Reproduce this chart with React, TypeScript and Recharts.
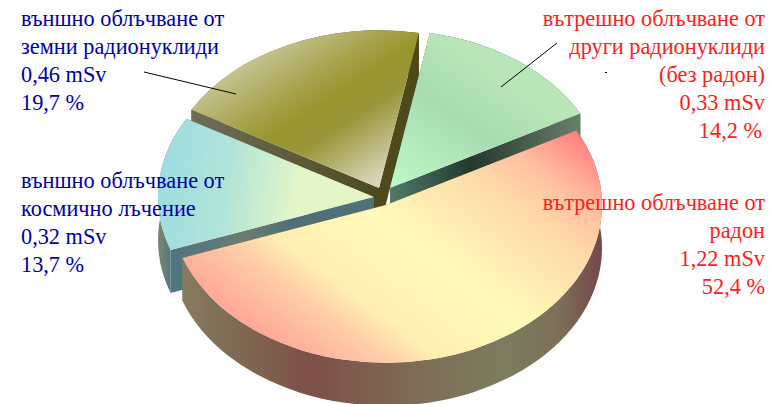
import { Pie, PieChart } from 'recharts'

const sliceNames = ['cosmic', 'terrestrial', 'other', 'radon']
const sliceShares = [13.7, 19.7, 14.2, 52.4]
const pieData = sliceNames.map((name, i) => ({ name, value: sliceShares[i] }))

const cosmicLabel = ['външно облъчване от', 'космично лъчение', '0,32 mSv', '13,7 %']
const terrestrialLabel = ['външно облъчване от', 'земни радионуклиди', '0,46 mSv', '19,7 %']
const otherLabel = ['вътрешно облъчване от', 'други радионуклиди', '(без радон)', '0,33 mSv']
const otherShare = ['14,2 %']
const radonLabel = ['вътрешно облъчване от', 'радон', '1,22 mSv', '52,4 %']

const CX = 385
const CY = 205
const RX = 216
const SQUASH = 0.73
const DEPTH = 43
const START_ANGLE = 199.6

// how far each slice is pulled out of the pie, same order as sliceNames
const explode = [
    [-11, -8],
    [-6, -17],
    [5, -17],
    [1, 0],
]
// slices whose walls have to be painted last, they hide the others
const frontSlices = [0, 3]

function edgePoint(x: number, y: number, angle: number) {
    const rad = (angle * Math.PI) / 180
    return [x + RX * Math.cos(rad), y - RX * SQUASH * Math.sin(rad)]
}

function wedgePath(x: number, y: number, from: number, to: number) {
    const [x1, y1] = edgePoint(x, y, from)
    const [x2, y2] = edgePoint(x, y, to)
    const large = from - to > 180 ? 1 : 0
    return `M${x},${y}L${x1},${y1}A${RX},${RX * SQUASH} 0 ${large} 1 ${x2},${y2}Z`
}

function wallPaths(x: number, y: number, from: number, to: number) {
    const [x1, y1] = edgePoint(x, y, from)
    const [x2, y2] = edgePoint(x, y, to)
    const large = from - to > 180 ? 1 : 0
    const ry = RX * SQUASH
    return [
        `M${x},${y}L${x1},${y1}L${x1},${y1 + DEPTH}L${x},${y + DEPTH}Z`,
        `M${x},${y}L${x2},${y2}L${x2},${y2 + DEPTH}L${x},${y + DEPTH}Z`,
        `M${x1},${y1}A${RX},${ry} 0 ${large} 1 ${x2},${y2}L${x2},${y2 + DEPTH}A${RX},${ry} 0 ${large} 0 ${x1},${y1 + DEPTH}Z`,
    ]
}

function SliceWall(props: any) {
    const { cx, cy, startAngle, endAngle, index } = props
    const [dx, dy] = explode[index]
    return (
        <g>
            {wallPaths(cx + dx, cy + dy, startAngle, endAngle).map((d) => (
                <path key={d} d={d} fill={`url(#wall-${index})`} />
            ))}
        </g>
    )
}

function BackWall(props: any) {
    return frontSlices.includes(props.index) ? <g /> : <SliceWall {...props} />
}

function FrontWall(props: any) {
    return frontSlices.includes(props.index) ? <SliceWall {...props} /> : <g />
}

function SliceTop(props: any) {
    const { cx, cy, startAngle, endAngle, index } = props
    const [dx, dy] = explode[index]
    return <path d={wedgePath(cx + dx, cy + dy, startAngle, endAngle)} fill={`url(#top-${index})`} />
}

function TextBlock({ lines, x, y, color, anchor }: { lines: string[]; x: number; y: number; color: string; anchor: 'start' | 'end' }) {
    return (
        <text x={x} y={y} fill={color} textAnchor={anchor} fontFamily="Liberation Serif" fontSize={22.3}>
            {lines.map((line, i) => (
                <tspan key={line} x={x} y={y + i * 28}>
                    {line}
                </tspan>
            ))}
        </text>
    )
}

export default function App() {
    return (
        <div style={{ position: 'absolute', left: 0, top: 0, width: 775, height: 404 }}>
            <PieChart width={775} height={404} margin={{ top: 0, right: 0, bottom: 0, left: 0 }}>
                <defs>
                    <linearGradient id="top-0" gradientUnits="userSpaceOnUse" x1="165" y1="170" x2="300" y2="190">
                        <stop offset="0" stopColor="#9fdde0" />
                        <stop offset="0.45" stopColor="#b0e4d8" />
                        <stop offset="1" stopColor="#e4f6c8" />
                    </linearGradient>
                    <linearGradient id="top-1" gradientUnits="userSpaceOnUse" x1="302" y1="26" x2="395" y2="169">
                        <stop offset="0" stopColor="#c5c390" />
                        <stop offset="0.3" stopColor="#a5a24a" />
                        <stop offset="0.45" stopColor="#98962e" />
                        <stop offset="0.62" stopColor="#98963a" />
                        <stop offset="1" stopColor="#dad5ba" />
                    </linearGradient>
                    <linearGradient id="top-2" gradientUnits="userSpaceOnUse" x1="480" y1="60" x2="395" y2="185">
                        <stop offset="0" stopColor="#b8e6b8" />
                        <stop offset="0.4" stopColor="#a8dcb0" />
                        <stop offset="1" stopColor="#bcf8c8" />
                    </linearGradient>
                    <linearGradient id="top-3" gradientUnits="userSpaceOnUse" x1="562" y1="121" x2="351" y2="402">
                        <stop offset="0" stopColor="#ff7f80" />
                        <stop offset="0.15" stopColor="#ffc0a0" />
                        <stop offset="0.26" stopColor="#ffd8a8" />
                        <stop offset="0.53" stopColor="#fffbb8" />
                        <stop offset="0.75" stopColor="#ffeeb0" />
                        <stop offset="0.85" stopColor="#ffcca8" />
                        <stop offset="1" stopColor="#ffa898" />
                    </linearGradient>
                    <linearGradient id="wall-0" gradientUnits="userSpaceOnUse" x1="157" y1="0" x2="372" y2="0">
                        <stop offset="0" stopColor="#7f8a70" />
                        <stop offset="0.07" stopColor="#4f7580" />
                        <stop offset="0.4" stopColor="#6b7c72" />
                        <stop offset="0.63" stopColor="#4f7078" />
                        <stop offset="1" stopColor="#4f7078" />
                    </linearGradient>
                    <linearGradient id="wall-1" gradientUnits="userSpaceOnUse" x1="192" y1="0" x2="420" y2="0">
                        <stop offset="0" stopColor="#6e6e58" />
                        <stop offset="0.45" stopColor="#5f5a3a" />
                        <stop offset="0.8" stopColor="#4e4a20" />
                        <stop offset="1" stopColor="#4d4a18" />
                    </linearGradient>
                    <linearGradient id="wall-2" gradientUnits="userSpaceOnUse" x1="390" y1="0" x2="578" y2="0">
                        <stop offset="0" stopColor="#4f7a6a" />
                        <stop offset="0.43" stopColor="#24392e" />
                        <stop offset="1" stopColor="#687e6c" />
                    </linearGradient>
                    <linearGradient id="wall-3" gradientUnits="userSpaceOnUse" x1="186" y1="0" x2="601" y2="0">
                        <stop offset="0" stopColor="#857a60" />
                        <stop offset="0.15" stopColor="#7e6650" />
                        <stop offset="0.3" stopColor="#7e5048" />
                        <stop offset="0.59" stopColor="#7e7058" />
                        <stop offset="0.76" stopColor="#7c7c5e" />
                        <stop offset="0.9" stopColor="#7c7058" />
                        <stop offset="1" stopColor="#75484a" />
                    </linearGradient>
                </defs>
                {[BackWall, FrontWall, SliceTop].map((layer) => (
                    <Pie
                        key={layer.name}
                        data={pieData}
                        dataKey="value"
                        cx={CX}
                        cy={CY}
                        outerRadius={RX}
                        startAngle={START_ANGLE}
                        endAngle={START_ANGLE - 360}
                        stroke="none"
                        shape={layer}
                        isAnimationActive={false}
                    />
                ))}
            </PieChart>
            {/* recharts paints loose svg under the pies, the labels sit on top of them */}
            <svg width={775} height={404} style={{ position: 'absolute', left: 0, top: 0 }}>
                <line x1={144} y1={72} x2={236} y2={94} stroke="#000" strokeWidth={1} />
                <line x1={557} y1={43} x2={501} y2={87} stroke="#000" strokeWidth={1} />
                <line x1={605} y1={72.5} x2={607} y2={72.5} stroke="#000" strokeWidth={1} />
                <TextBlock lines={terrestrialLabel} x={21} y={26} color="#0000a0" anchor="start" />
                <TextBlock lines={cosmicLabel} x={21} y={188} color="#0000a0" anchor="start" />
                <TextBlock lines={otherLabel} x={765} y={26} color="#ff2020" anchor="end" />
                <TextBlock lines={otherShare} x={762} y={138} color="#ff2020" anchor="end" />
                <TextBlock lines={radonLabel} x={765} y={210} color="#ff2020" anchor="end" />
            </svg>
        </div>
    )
}
